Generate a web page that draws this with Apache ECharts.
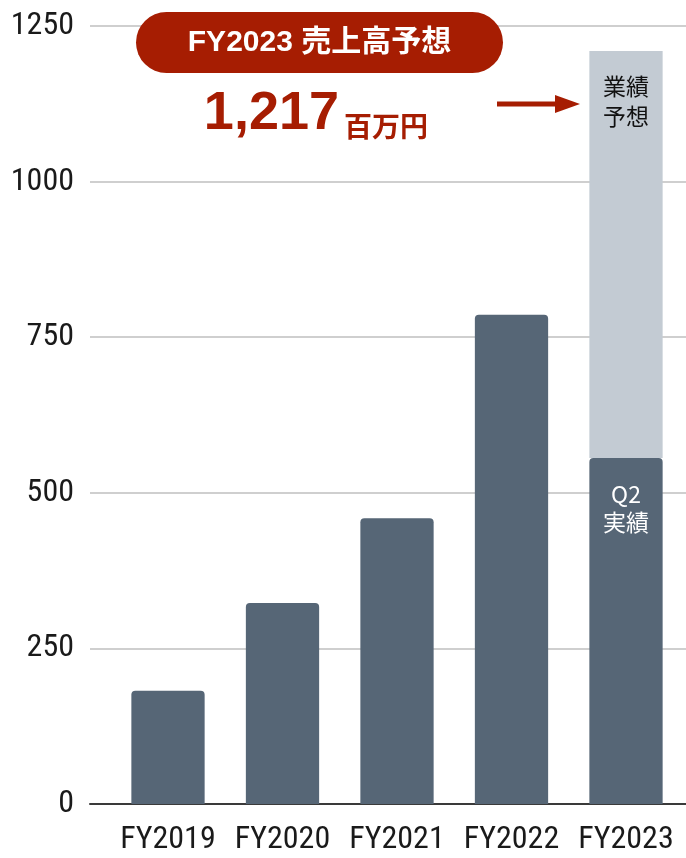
<!DOCTYPE html>
<html>
<head>
<meta charset="utf-8">
<script src="https://cdn.jsdelivr.net/npm/echarts@6/dist/echarts.min.js"></script>
<style>
html,body{margin:0;padding:0;background:#fff;}
#chart{width:686px;height:858px;}
</style>
</head>
<body>
<div id="chart"></div>
<script>
const categories = ['FY2019', 'FY2020', 'FY2021', 'FY2022', 'FY2023'];
const actualValues = [182, 323, 459, 786, 556];
const forecastTotals = [null, null, null, null, 1210];
const yTicks = [0, 250, 500, 750, 1000, 1250];
const headlineTitle = 'FY2023 売上高予想';
const headlineValue = '1,217';
const headlineUnit = '百万円';

const NARROW = "'Liberation Sans Narrow', 'Arial Narrow', 'Roboto Condensed', 'DejaVu Sans Condensed', sans-serif";
const CJK = "'Noto Sans CJK JP', 'Noto Sans', sans-serif";
const RED = '#a61d02';
const DARK = '#566676';
const LIGHT = '#c3cbd3';

const lastIdx = categories.length - 1;
const actualData = actualValues.map((v, i) => i === lastIdx ? {
  value: v,
  label: {
    show: true, position: 'insideTop', distance: 22,
    formatter: 'Q2\n実績', color: '#ffffff', fontSize: 23, lineHeight: 28,
    fontFamily: CJK
  }
} : v);
const forecastData = forecastTotals.map((v, i) => v == null ? null : {
  value: v - actualValues[i],
  label: {
    show: true, position: 'insideTop', distance: 20,
    formatter: '業績\n予想', color: '#111111', fontSize: 23, lineHeight: 30,
    fontFamily: CJK
  }
});

const chart = echarts.init(document.getElementById('chart'), null, {renderer: 'canvas'});
chart.setOption({
  animation: false,
  backgroundColor: '#ffffff',
  grid: [
    {left: 90, right: 0, top: 26, bottom: 54},
    {left: 110.75, right: 2.75, top: 26, bottom: 54}
  ],
  xAxis: [
    {
      gridIndex: 0, type: 'value', min: 0, max: 1,
      axisLine: {show: true, lineStyle: {color: '#3a3a3a', width: 2}},
      axisTick: {show: false}, axisLabel: {show: false}, splitLine: {show: false}
    },
    {
      gridIndex: 1, type: 'category', data: categories,
      axisLine: {show: false}, axisTick: {show: false},
      axisLabel: {color: '#1a1a1a', fontSize: 32, fontFamily: NARROW, margin: 20, interval: 0}
    }
  ],
  yAxis: [
    {
      gridIndex: 0, type: 'value', min: yTicks[0], max: yTicks[yTicks.length - 1], interval: 250,
      axisLine: {show: false}, axisTick: {show: false},
      axisLabel: {color: '#1a1a1a', fontSize: 32, fontFamily: NARROW, margin: 16,
        formatter: (v) => String(v)},
      splitLine: {show: true, lineStyle: {color: '#cfcfcf', width: 2}}
    },
    {
      gridIndex: 1, type: 'value', min: yTicks[0], max: yTicks[yTicks.length - 1], interval: 250,
      show: false, splitLine: {show: false}
    }
  ],
  series: [
    {
      type: 'bar', name: '実績', xAxisIndex: 1, yAxisIndex: 1, stack: 'sales',
      data: actualData, barWidth: '64%',
      itemStyle: {color: DARK, borderRadius: [4, 4, 0, 0]},
      label: {show: false}
    },
    {
      type: 'bar', name: '予想', xAxisIndex: 1, yAxisIndex: 1, stack: 'sales',
      data: forecastData, barWidth: '64%',
      itemStyle: {color: LIGHT},
      label: {show: false}
    }
  ],
  graphic: [
    {
      type: 'rect', shape: {x: 136, y: 12, width: 367, height: 61, r: 30.5},
      style: {fill: RED}, z: 10
    },
    {
      type: 'text', x: 319.5, y: 43, z: 11,
      style: {text: headlineTitle, fill: '#ffffff', font: "bold 30px 'Liberation Sans', " + CJK,
        textAlign: 'center', textVerticalAlign: 'middle'}
    },
    {
      type: 'text', x: 339, y: 114, z: 11,
      style: {text: headlineValue, fill: RED, font: "bold 54px 'Liberation Sans', sans-serif",
        textAlign: 'right', textVerticalAlign: 'middle'}
    },
    {
      type: 'text', x: 344, y: 126, z: 11,
      style: {text: headlineUnit, fill: RED, font: "bold 28px " + CJK,
        textAlign: 'left', textVerticalAlign: 'middle'}
    },
    {
      type: 'line', shape: {x1: 497, y1: 104, x2: 557, y2: 104},
      style: {stroke: RED, lineWidth: 5}, z: 10
    },
    {
      type: 'polygon', shape: {points: [[555, 95], [580, 104], [555, 113]]},
      style: {fill: RED}, z: 10
    }
  ]
});
</script>
</body>
</html>
